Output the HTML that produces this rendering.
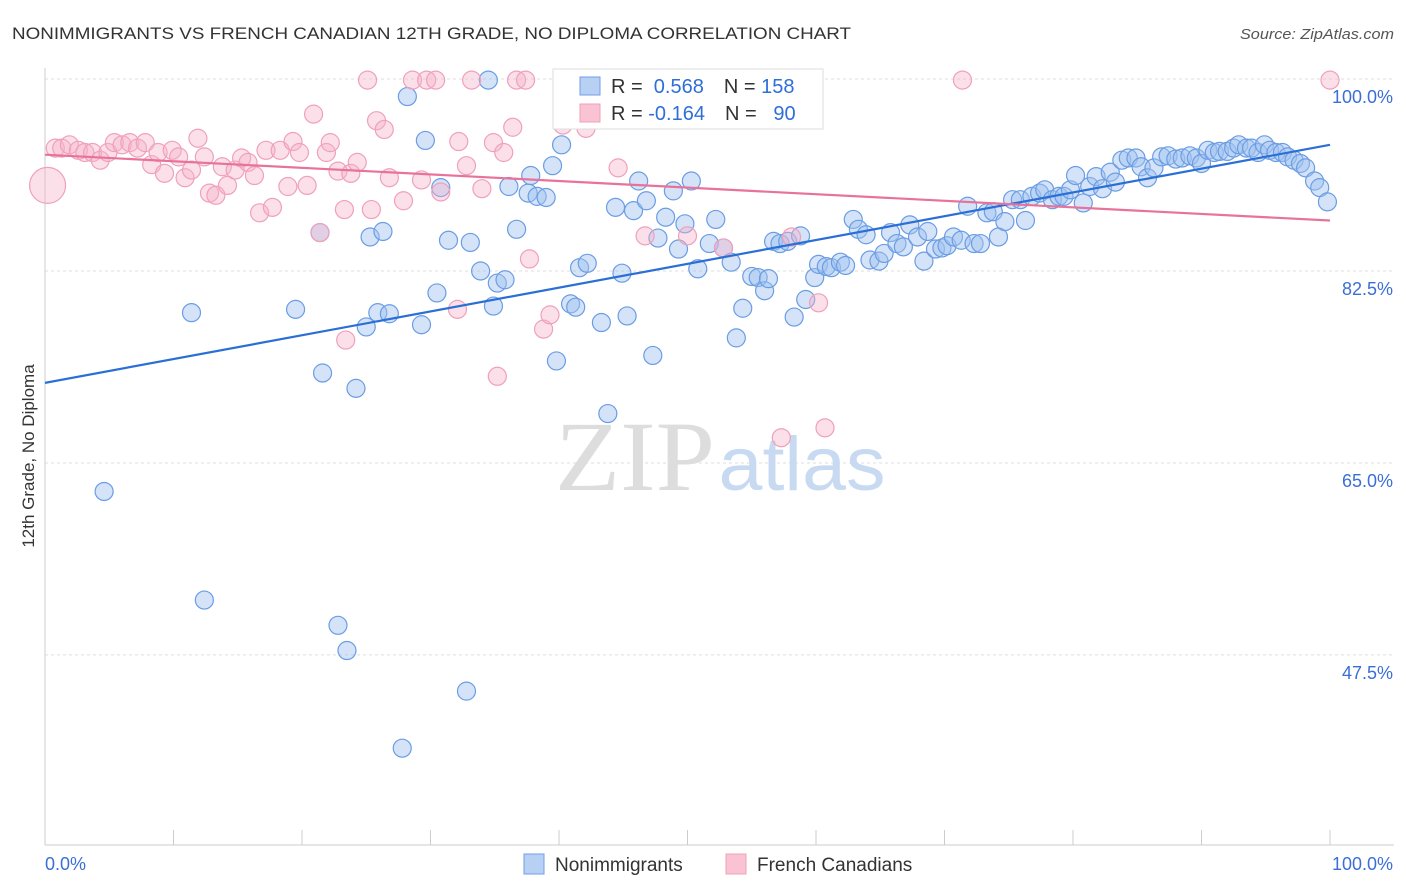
<!DOCTYPE html>
<html><head><meta charset="utf-8"><style>
body{margin:0;background:#fff;font-family:"Liberation Sans",sans-serif;}
#wrap{position:relative;width:1406px;height:892px;overflow:hidden;}
</style></head><body>
<div id="wrap">
<svg id="chart" width="1406" height="892">
<text x="12" y="39" font-size="17" fill="#333" textLength="839" lengthAdjust="spacingAndGlyphs">NONIMMIGRANTS VS FRENCH CANADIAN 12TH GRADE, NO DIPLOMA CORRELATION CHART</text>
<text x="1394" y="39" font-size="15" fill="#555" font-style="italic" text-anchor="end" textLength="154" lengthAdjust="spacingAndGlyphs">Source: ZipAtlas.com</text>
<text x="34" y="456" font-size="17" fill="#333" transform="rotate(-90 34 456)" text-anchor="middle">12th Grade, No Diploma</text>
<g id="grid"></g>
<g id="watermark">
<text x="635" y="490" font-size="100" fill="#ddd" font-family="Liberation Serif,serif" text-anchor="middle" textLength="160" lengthAdjust="spacingAndGlyphs">ZIP</text>
<text x="802" y="490" font-size="76" fill="#c8daf2" text-anchor="middle" textLength="167" lengthAdjust="spacingAndGlyphs">atlas</text>
</g>
<g id="pts"></g>
<g id="lines"></g>
<g id="legend">
<rect x="553" y="69" width="270" height="60" fill="#fff" stroke="#ddd"/>
<rect x="580" y="77" width="20" height="18" fill="#b8d0f4" stroke="#6fa0e6"/>
<rect x="580" y="104" width="20" height="18" fill="#f9c3d3" stroke="#f0a0bb"/>
<text x="611" y="93" font-size="20" fill="#333">R = <tspan fill="#2e6fd8">&#160;0.568</tspan><tspan dx="20">N = </tspan><tspan fill="#2e6fd8">158</tspan></text>
<text x="611" y="120" font-size="20" fill="#333">R = <tspan fill="#2e6fd8">-0.164</tspan><tspan dx="20">N = </tspan><tspan fill="#2e6fd8">&#160;&#160;90</tspan></text>
</g>
<g id="bottom-legend">
<rect x="524" y="854" width="20" height="20" fill="#b8d0f4" stroke="#6fa0e6"/>
<text x="555" y="871" font-size="19" fill="#333">Nonimmigrants</text>
<rect x="726" y="854" width="20" height="20" fill="#f9c3d3" stroke="#f0a0bb"/>
<text x="757" y="871" font-size="19" fill="#333">French Canadians</text>
</g>
</svg>
</div>
<script>
const yTicks=[100,82.5,65,47.5];
const xTickLabels=["0.0%","100.0%"];
const blueX=[4.6,12.4,22.8,23.5,32.8,27.8,11.4,19.5,21.6,24.2,21.4,25.3,26.3,25.0,25.9,26.8,29.3,30.5,28.2,29.6,30.8,31.4,33.1,33.9,35.2,35.8,34.9,34.5,36.1,36.7,37.6,38.3,39.0,37.8,39.5,40.2,39.8,40.9,41.3,41.6,42.2,43.3,43.8,44.4,44.9,45.3,45.8,46.2,46.8,47.3,47.7,48.3,48.9,49.3,49.8,50.3,50.8,51.7,52.2,52.8,53.4,53.8,54.3,55.0,55.5,56.0,56.3,56.7,57.2,57.8,58.3,58.8,59.2,59.9,60.2,60.8,61.2,61.9,62.3,62.9,63.3,63.9,64.2,64.9,65.3,65.8,66.3,66.8,67.3,67.9,68.4,68.7,69.3,69.8,70.2,70.7,71.3,71.8,72.3,72.8,73.3,73.8,74.2,74.7,75.3,75.9,76.3,76.8,77.4,77.8,78.4,78.9,79.3,79.8,80.2,80.8,81.3,81.8,82.3,82.9,83.3,83.8,84.3,84.9,85.3,85.8,86.3,86.9,87.4,88.0,88.5,89.1,89.6,90.0,90.5,91.0,91.4,92.0,92.5,92.9,93.5,93.9,94.4,94.9,95.3,95.8,96.3,96.7,97.2,97.7,98.1,98.8,99.2,99.8];
const blueY=[62.4,52.5,50.2,47.9,44.2,39.0,78.7,79.0,73.2,71.8,86.0,85.6,86.1,77.4,78.7,78.6,77.6,80.5,98.4,94.4,90.1,85.3,85.1,82.5,81.4,81.7,79.3,99.9,90.2,86.3,89.6,89.3,89.2,91.2,92.1,94.0,74.3,79.5,79.2,82.8,83.2,77.8,69.5,88.3,82.3,78.4,88.0,90.7,88.9,74.8,85.5,87.4,89.8,84.5,86.8,90.7,82.7,85.0,87.2,84.6,83.3,76.4,79.1,82.0,81.9,80.7,81.8,85.2,85.0,85.2,78.3,85.7,79.9,81.9,83.1,82.9,82.8,83.3,83.0,87.2,86.3,85.8,83.5,83.4,84.1,86.0,85.0,84.7,86.7,85.6,83.4,86.1,84.5,84.6,84.8,85.6,85.3,88.4,85.0,85.0,87.8,87.9,85.6,87.0,89.0,89.0,87.1,89.3,89.6,89.9,89.0,89.3,89.3,89.9,91.2,88.7,90.2,91.1,90.0,91.5,90.6,92.6,92.8,92.8,92.0,91.0,91.9,92.9,93.0,92.7,92.8,93.0,92.8,92.3,93.5,93.3,93.4,93.4,93.7,94.0,93.7,93.7,93.3,94.0,93.5,93.3,93.3,92.9,92.6,92.3,91.9,90.7,90.1,88.8];
const pinkX=[0.2,0.8,1.3,1.9,2.6,3.1,3.7,4.3,4.9,5.4,6.0,6.6,7.2,7.8,8.3,8.8,9.3,9.9,10.4,10.9,11.4,11.9,12.4,12.8,13.3,13.8,14.2,14.8,15.3,15.8,16.3,16.7,17.2,17.7,18.3,18.9,19.3,19.8,20.4,20.9,21.4,21.9,22.2,22.8,23.3,23.8,24.3,23.4,25.1,25.4,25.8,26.4,26.8,27.9,28.6,29.3,29.7,30.4,30.8,32.2,32.8,33.2,34.0,35.2,34.9,35.7,36.4,36.7,37.4,37.7,38.8,39.3,40.3,42.1,44.6,46.7,47.5,50.0,52.8,57.3,58.1,60.2,60.7,71.4,100,32.1];
const pinkY=[90.3,93.7,93.7,94.0,93.5,93.3,93.3,92.6,93.3,94.2,94.0,94.2,93.7,94.2,92.2,93.3,91.4,93.5,92.9,91.0,91.7,94.6,92.9,89.6,89.4,92.0,90.3,91.7,92.8,92.4,91.2,87.8,93.5,88.3,93.5,90.2,94.3,93.3,90.3,96.8,86.0,93.3,94.2,91.6,88.1,91.4,92.4,76.2,99.9,88.1,96.2,95.4,91.0,88.9,99.9,90.8,99.9,99.9,89.7,94.3,92.1,99.9,90.0,72.9,94.2,93.3,95.6,99.9,99.9,83.6,77.2,78.5,95.8,95.5,91.9,85.7,99.9,85.7,84.6,67.3,85.6,79.6,68.2,99.9,99.9,79.0];
const blueTrend=[72.3,94.0];
const pinkTrend=[93.1,87.1];
const NS="http://www.w3.org/2000/svg";
const X0=45,X1=1330,Y100=79,YPX=10.97;
function xs(v){return X0+(X1-X0)*v/100;}
function ys(v){return Y100+(100-v)*YPX;}
function mk(tag,attrs,parent){const e=document.createElementNS(NS,tag);for(const k in attrs)e.setAttribute(k,attrs[k]);parent.appendChild(e);return e;}
const grid=document.getElementById('grid');
mk('line',{x1:45,y1:68,x2:45,y2:845,stroke:'#ccc'},grid);
mk('line',{x1:45,y1:845,x2:1394,y2:845,stroke:'#ccc'},grid);
for(let i=0;i<=10;i++){const x=xs(i*10);mk('line',{x1:x,y1:830,x2:x,y2:845,stroke:'#ccc'},grid);}
yTicks.forEach(t=>{
 const y=ys(t);
 const l=mk('line',{x1:45,y1:y,x2:1394,y2:y,stroke:'#ddd','stroke-dasharray':'3,3'},grid);
 
 
 const tx=mk('text',{x:1393,y:y+24,'font-size':18,fill:'#3b6fd6','text-anchor':'end'},grid);
 tx.textContent=t.toFixed(1)+'%';
 
 
});
const xl0=mk('text',{x:45,y:870,'font-size':18,fill:'#3b6fd6'},grid);xl0.textContent=xTickLabels[0];


const xl1=mk('text',{x:1393,y:870,'font-size':18,fill:'#3b6fd6','text-anchor':'end'},grid);xl1.textContent=xTickLabels[1];


const pts=document.getElementById('pts');
blueX.forEach((v,i)=>{const c=mk('circle',{cx:xs(v),cy:ys(blueY[i]),r:9,fill:'rgba(160,194,240,0.45)',stroke:'#6a9de4','stroke-width':1.2},pts);
 
 });
pinkX.forEach((v,i)=>{const c=mk('circle',{cx:xs(v),cy:ys(pinkY[i]),r:i===0?18:9,fill:'rgba(246,178,200,0.4)',stroke:'#f0a0bb','stroke-width':1.2},pts);
 
 });
const lines=document.getElementById('lines');
const bl=mk('line',{x1:xs(0),y1:ys(blueTrend[0]),x2:xs(100),y2:ys(blueTrend[1]),stroke:'#2a6fd6','stroke-width':2.2},lines);


const pl=mk('line',{x1:xs(0),y1:ys(pinkTrend[0]),x2:xs(100),y2:ys(pinkTrend[1]),stroke:'#e8729a','stroke-width':2.2},lines);


</script>
</body></html>
